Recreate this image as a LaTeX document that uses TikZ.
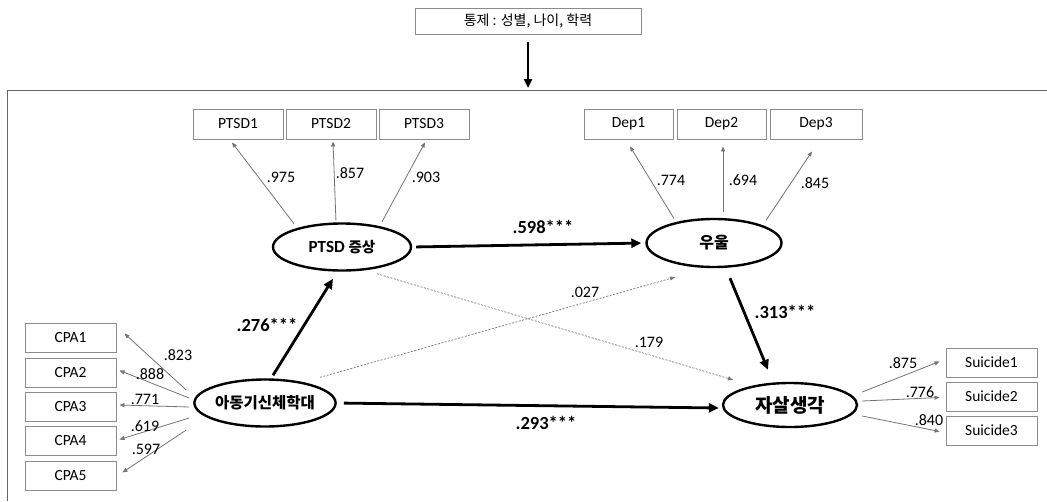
\documentclass[tikz,border=0pt]{standalone}
\usepackage{fontspec}
\setmainfont{Carlito}
\newfontfamily\kr{Noto Sans CJK KR}
\usetikzlibrary{shapes.geometric,arrows.meta,calc}
\begin{document}
\begin{tikzpicture}[x=1pt,y=-1pt,
  obs/.style={draw=black!45, line width=0.9pt, minimum height=29pt, inner sep=0pt, font=\fontsize{15.5}{17}\selectfont},
  lat/.style={draw, ellipse, line width=2.4pt, inner sep=0pt},
  load/.style={draw=black!55, line width=0.8pt, -{Triangle[length=5pt,width=4pt]}},
  strong/.style={line width=2.8pt, -{Triangle[length=10pt,width=9pt]}},
  ns/.style={draw=black!55, line width=0.7pt, dash pattern=on 2pt off 1.5pt, -{Triangle[length=5pt,width=4pt]}},
  num/.style={font=\fontsize{16}{18}\selectfont, inner sep=0pt},
  coef/.style={font=\bfseries\fontsize{18.5}{20}\selectfont, inner sep=0pt}]
\useasboundingbox (0,0) rectangle (1047,501);
% frame
\draw[black!60, line width=1pt] (7,501) -- (7,90) -- (1047,90);
\coordinate (frametop) at (528,90);
% control box
\node[draw=black!45, line width=0.9pt, minimum width=226pt, minimum height=26pt, inner sep=0pt, font=\kr\fontsize{14}{16}\selectfont] (ctrl) at (528,21) {통제 : 성별, 나이, 학력};
\draw[line width=2.4pt, -{Triangle[length=9pt,width=8pt]}, shorten <=8pt, shorten >=2pt] (ctrl.south) -- (frametop);
% indicator boxes
\node[obs, minimum width=90pt, minimum height=30pt] (p1) at (238,124) {PTSD1};
\node[obs, minimum width=90pt, minimum height=30pt] (p2) at (331,124) {PTSD2};
\node[obs, minimum width=90pt, minimum height=30pt] (p3) at (424,124) {PTSD3};
\node[obs, minimum width=89pt, minimum height=30pt] (d1) at (628.5,124) {Dep1};
\node[obs, minimum width=89pt, minimum height=30pt] (d2) at (721.5,124) {Dep2};
\node[obs, minimum width=92pt, minimum height=30pt] (d3) at (816,124) {Dep3};
\node[obs, minimum width=91pt] (c1) at (70.5,337.5) {CPA1};
\node[obs, minimum width=91pt] (c2) at (70.5,372.5) {CPA2};
\node[obs, minimum width=91pt] (c3) at (70.5,407) {CPA3};
\node[obs, minimum width=91pt] (c4) at (70.5,440.5) {CPA4};
\node[obs, minimum width=91pt] (c5) at (70.5,475.5) {CPA5};
\node[obs, minimum width=91pt] (s1) at (991.5,362.5) {Suicide1};
\node[obs, minimum width=91pt] (s2) at (991.5,396.5) {Suicide2};
\node[obs, minimum width=91pt] (s3) at (991.5,430.5) {Suicide3};
% latent variables
\node[lat, minimum width=138pt, minimum height=47pt] (ptsd) at (342,247) {\fontsize{17}{19}\selectfont\bfseries PTSD {\kr\fontsize{14.5}{17}\selectfont 증상}};
\node[lat, minimum width=135pt, minimum height=48pt] (dep) at (714,243) {\kr\bfseries\fontsize{16}{18}\selectfont 우울};
\node[lat, minimum width=134pt, minimum height=47pt] (abuse) at (265,403) {\kr\bfseries\fontsize{15.5}{17}\selectfont 아동기신체학대};
\node[lat, minimum width=134pt, minimum height=44pt] (sui) at (790,405) {\kr\bfseries\fontsize{19}{21}\selectfont 자살생각};
% PTSD loadings
\draw[load, shorten <=5pt] (ptsd.157) -- ($(p1.south)+(-6,3)$);
\draw[load, shorten <=2pt] ($(ptsd.north)+(-6,0)$) -- ($(p2.south)+(2,2)$);
\draw[load, shorten <=5pt] (ptsd.29) -- ($(p3.south)+(1,3)$);
\node[num] (lp1) at (281,177) {.975};
\node[num] (lp2) at (350,173) {.857};
\node[num] (lp3) at (426,177) {.903};
% Dep loadings
\draw[load, shorten <=4pt] (dep.151) -- ($(d1.south)+(1.5,7)$);
\draw[load, shorten <=2pt] ($(dep.north)+(9,-4)$) -- ($(d2.south)+(1.5,7)$);
\draw[load, shorten <=6pt] (dep.20) -- ($(d3.south)+(-4,12)$);
\node[num] (ld1) at (671,180) {.774};
\node[num] (ld2) at (743,180) {.694};
\node[num] (ld3) at (815,183) {.845};
% CPA loadings
\draw[load] ($(abuse.west)+(-7,-13)$) -- ($(c1.east)+(8,-4)$);
\draw[load] ($(abuse.west)+(-4,-5)$) -- ($(c2.east)+(3,-2)$);
\draw[load] ($(abuse.west)+(-4,4)$) -- ($(c3.east)+(3,-2)$);
\draw[load] ($(abuse.west)+(-4,15)$) -- ($(c4.east)+(3,-1)$);
\draw[load] ($(abuse.west)+(-7,27)$) -- ($(c5.east)+(6,-3)$);
\node[num] (lc1) at (178,355) {.823};
\node[num] (lc2) at (150,374) {.888};
\node[num] (lc3) at (145,399) {.771};
\node[num] (lc4) at (145,426) {.619};
\node[num] (lc5) at (146,449) {.597};
% Suicide loadings
\draw[load] ($(sui.east)+(4,-13)$) -- ($(s1.west)+(-6,-1)$);
\draw[load] ($(sui.east)+(4,-4)$) -- ($(s2.west)+(-6,1)$);
\draw[load] ($(sui.east)+(4,11)$) -- ($(s3.west)+(-6,1)$);
\node[num] (ls1) at (903,363) {.875};
\node[num] (ls2) at (920,392) {.776};
\node[num] (ls3) at (929,420) {.840};
% structural paths
\draw[strong, shorten <=4pt, shorten >=4pt] (ptsd.east) -- (dep.west);
\node[coef] (b1) at (543,227) {.598***};
\draw[strong] ($(abuse.north)+(8,-3)$) -- ($(ptsd.south)+(-9,7)$);
\node[coef] (b2) at (267,325) {.276***};
\draw[strong] ($(dep.south)+(16,10)$) -- ($(sui.north)+(-22,-12)$);
\node[coef] (b3) at (785,312) {.313***};
\draw[strong, shorten <=7pt] (abuse.east) -- ($(sui.west)+(-3,3)$);
\node[coef] (b4) at (546,423) {.293***};
% non-significant paths
\draw[ns] ($(ptsd.south)+(35,2)$) -- ($(sui.north)+(-57,-2)$);
\node[num] (n1) at (649,342) {.179};
\draw[ns] ($(abuse.north)+(55,-1)$) -- ($(dep.south)+(-39,9)$);
\node[num] (n2) at (585,292) {.027};
\end{tikzpicture}
\end{document}
